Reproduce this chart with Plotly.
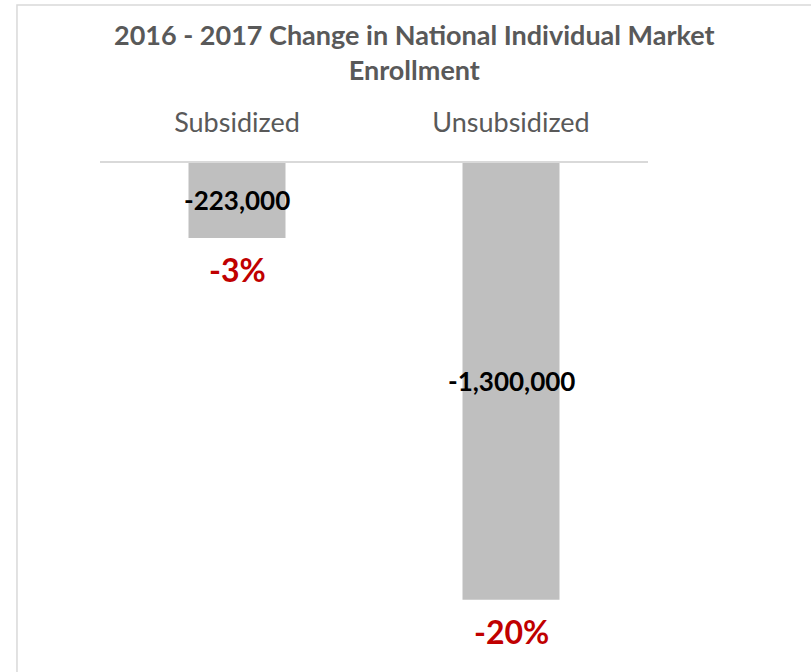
import plotly.graph_objects as go

categories = ["Subsidized", "Unsubsidized"]
changes = [-223000, -1300000]
change_labels = ["-223,000", "-1,300,000"]
pct_labels = ["-3%", "-20%"]

FONT = "Lato"
fig = go.Figure()
fig.add_trace(go.Bar(
    x=categories, y=changes, marker=dict(color="#bfbfbf", line=dict(width=0)),
    width=0.354, hoverinfo="skip",
))

for c, v, lab, p in zip(categories, changes, change_labels, pct_labels):
    fig.add_annotation(x=c, y=v / 2, text=f"<b>{lab}</b>", showarrow=False,
                       font=dict(family=FONT, size=26, color="#000000"),
                       xanchor="center", yanchor="middle")
    fig.add_annotation(x=c, y=v, text=f"<b>{p}</b>", showarrow=False,
                       font=dict(family=FONT, size=32, color="#c00000"),
                       xanchor="center", yanchor="middle", yshift=-32)

fig.add_annotation(x=0.574, y=1, xref="paper", yref="paper", yshift=147,
                   text="<b>2016 - 2017 Change in National Individual Market<br>Enrollment</b>",
                   showarrow=False, xanchor="center", yanchor="top",
                   font=dict(family=FONT, size=27, color="#595959"))

# chart border
fig.add_shape(type="rect", xref="paper", yref="paper", x0=-0.1515, x1=1.4, y0=-0.2, y1=1.3135,
              line=dict(color="#d9d9d9", width=1.5), fillcolor="rgba(0,0,0,0)", layer="below")

fig.update_layout(
    width=811, height=672,
    margin=dict(l=100, r=163, t=163, b=5),
    paper_bgcolor="white", plot_bgcolor="white",
    showlegend=False,
    xaxis=dict(side="top", showline=True, linecolor="#d9d9d9", linewidth=1.5,
               ticks="", tickfont=dict(family=FONT, size=27, color="#595959"),
               showgrid=False, zeroline=False, ticklabelstandoff=18),
    yaxis=dict(range=[-1.5e6, 0], visible=False, showgrid=False, zeroline=False),
)

fig.write_html("out.html")
